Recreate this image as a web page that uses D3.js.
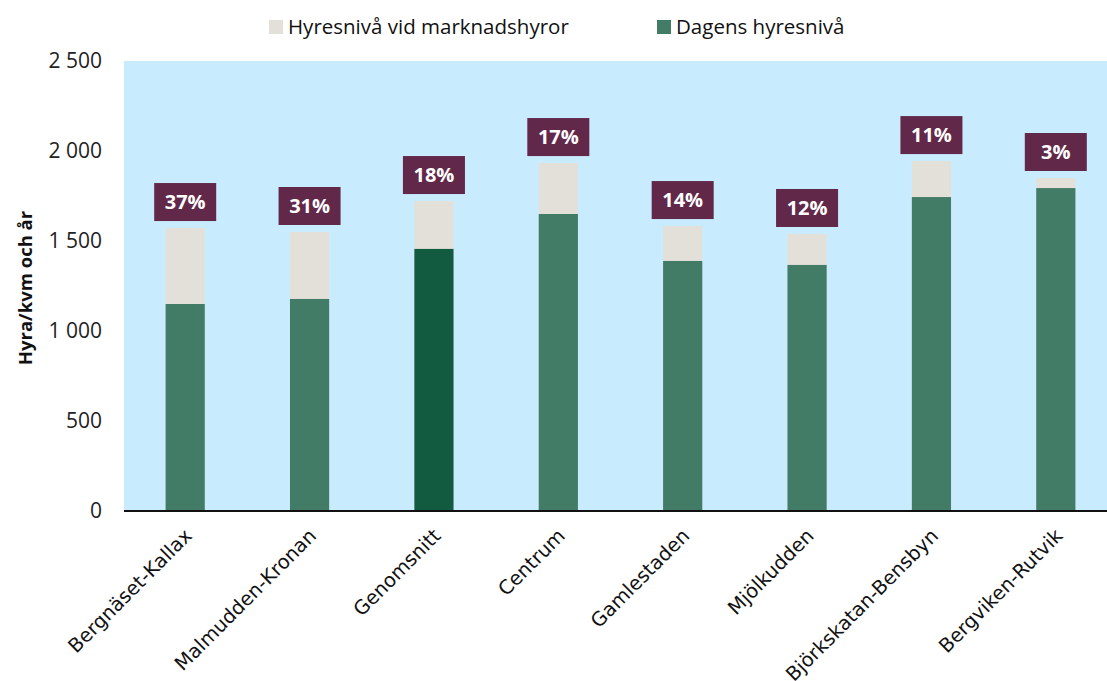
<!DOCTYPE html>
<html>
<head>
<meta charset="utf-8">
<script src="https://cdn.jsdelivr.net/npm/d3@7"></script>
<style>
  body { margin: 0; background: #fff; }
  svg { display: block; }
</style>
</head>
<body>
<div id="chart"></div>
<script>
// områden och hyror (kr/kvm och år)
const areas = ["Bergnäset-Kallax", "Malmudden-Kronan", "Genomsnitt", "Centrum",
  "Gamlestaden", "Mjölkudden", "Björkskatan-Bensbyn", "Bergviken-Rutvik"];
const currentRent = [1150, 1178, 1456, 1650, 1389, 1367, 1744, 1794];
const marketRent = [1572, 1550, 1722, 1933, 1583, 1539, 1944, 1850];
const pctLabels = ["37%", "31%", "18%", "17%", "14%", "12%", "11%", "3%"];
const yTicks = [0, 500, 1000, 1500, 2000, 2500];

const W = 1107, H = 681;
const margin = { top: 61, left: 124, bottom: 170 };
const plotBottom = H - margin.bottom; // 511
const font = "'Open Sans', Lato, sans-serif";

const svg = d3.select("#chart").append("svg")
  .attr("width", W).attr("height", H);

const x = d3.scaleBand()
  .domain(areas)
  .range([123, 1118])
  .paddingInner(0.685)
  .paddingOuter(0.3425);

const y = d3.scaleLinear().domain([0, 2500]).range([plotBottom, margin.top]);

// bakgrund
svg.append("rect")
  .attr("x", margin.left).attr("y", margin.top)
  .attr("width", W - margin.left).attr("height", plotBottom - margin.top)
  .attr("fill", "#c8ebfd");

// y-axel
const yAxis = svg.append("g")
  .attr("transform", `translate(${margin.left},0)`)
  .call(d3.axisLeft(y).tickValues(yTicks).tickSize(0).tickPadding(22)
    .tickFormat(d => d3.format(",")(d).replace(",", " ")));
yAxis.select(".domain").remove();
yAxis.selectAll("text")
  .attr("font-family", font)
  .attr("font-size", 21).attr("fill", "#222");

svg.append("text")
  .attr("transform", `translate(32,${(margin.top + plotBottom) / 2 + 2}) rotate(-90)`)
  .attr("text-anchor", "middle")
  .attr("font-family", font)
  .attr("font-weight", "bold").attr("font-size", 18.5).attr("fill", "#111")
  .text("Hyra/kvm och år");

// staplar
const g = svg.append("g");
g.selectAll("rect.market").data(areas).join("rect")
  .attr("class", "market")
  .attr("x", d => x(d)).attr("width", x.bandwidth())
  .attr("y", (d, i) => y(marketRent[i]))
  .attr("height", (d, i) => y(0) - y(marketRent[i]))
  .attr("fill", "#e3e0da");

g.selectAll("rect.current").data(areas).join("rect")
  .attr("class", "current")
  .attr("x", d => x(d)).attr("width", x.bandwidth())
  .attr("y", (d, i) => y(currentRent[i]))
  .attr("height", (d, i) => y(0) - y(currentRent[i]))
  .attr("fill", d => d === "Genomsnitt" ? "#125b41" : "#427b66");

// procentetiketter
const lab = svg.append("g").selectAll("g").data(areas).join("g")
  .attr("transform", (d, i) => `translate(${x(d) + x.bandwidth() / 2},${y(marketRent[i]) - 7})`);
lab.append("rect")
  .attr("x", -31).attr("y", -38).attr("width", 62).attr("height", 38)
  .attr("fill", "#622849");
lab.append("text")
  .attr("y", -12).attr("text-anchor", "middle")
  .attr("font-family", font)
  .attr("font-weight", "bold").attr("font-size", 20).attr("fill", "#fff")
  .text((d, i) => pctLabels[i]);

// x-axel
const xAxis = svg.append("g")
  .attr("transform", `translate(0,${plotBottom})`)
  .call(d3.axisBottom(x).tickSize(0).tickPadding(0));
xAxis.select(".domain").attr("d", `M${margin.left},0H${W}`)
  .attr("stroke", "#111").attr("stroke-width", 2);
xAxis.selectAll("text")
  .attr("font-family", "'DejaVu Sans', sans-serif")
  .attr("font-size", 19.5).attr("fill", "#111")
  .attr("text-anchor", "end")
  .attr("dy", 0)
  .attr("transform", "translate(8,26) rotate(-45)");

// legend
const legend = [
  { label: "Hyresnivå vid marknadshyror", color: "#e3e0da", x: 269 },
  { label: "Dagens hyresnivå", color: "#427b66", x: 657 }
];
const lg = svg.append("g").selectAll("g").data(legend).join("g")
  .attr("transform", d => `translate(${d.x},20)`);
lg.append("rect").attr("width", 14).attr("height", 14).attr("fill", d => d.color);
lg.append("text")
  .attr("x", 19).attr("y", 14)
  .attr("font-family", font)
  .attr("font-size", 20.5).attr("fill", "#111")
  .text(d => d.label);
</script>
</body>
</html>
